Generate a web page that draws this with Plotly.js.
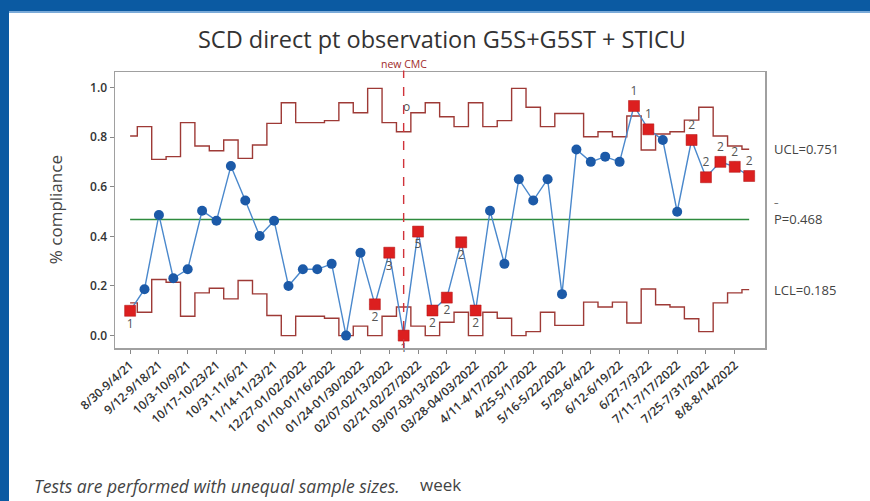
<!DOCTYPE html>
<html><head><meta charset="utf-8">
<script src="https://cdn.plot.ly/plotly-3.0.1.min.js"></script>
<style>
html,body{margin:0;padding:0;background:#fff;overflow:hidden}
#chart{width:870px;height:501px;position:absolute;left:0;top:0}
.bandTop{position:absolute;left:0;top:0;width:870px;height:11px;background:#0b5aa2;border-bottom:2px solid #7aaad8}
.bandLeft{position:absolute;left:0;top:0;width:9px;height:501px;background:#0b5aa2}
</style></head>
<body>
<div id="chart"></div>
<div class="bandTop"></div>
<div class="bandLeft"></div>
<script>
// ---- data ----
const tickLabels = ["8/30-9/4/21","9/12-9/18/21","10/3-10/9/21","10/17-10/23/21","10/31-11/6/21","11/14-11/23/21",
  "12/27-01/02/2022","01/10-01/16/2022","01/24-01/30/2022","02/07-02/13/2022","02/21-02/27/2022","03/07-03/13/2022",
  "03/28-04/03/2022","4/11-4/17/2022","4/25-5/1/2022","5/16-5/22/2022","5/29-6/4/22","6/12-6/19/22","6/27-7/3/22",
  "7/11-7/17/2022","7/25-7/31/2022","8/8-8/14/2022"];
const proportions = [0.10,0.187,0.486,0.231,0.267,0.503,0.463,0.683,0.544,0.401,
  0.463,0.200,0.267,0.267,0.289,0.0,0.334,0.126,0.334,0.0,
  0.419,0.101,0.153,0.376,0.101,0.503,0.289,0.630,0.544,0.630,
  0.167,0.750,0.700,0.721,0.700,0.925,0.831,0.788,0.499,0.788,
  0.638,0.700,0.680,0.643];
const ucl = [0.804,0.842,0.710,0.721,0.858,0.764,0.745,0.788,0.714,0.768,
  0.855,0.938,0.858,0.858,0.866,0.938,0.898,0.996,0.858,0.821,
  0.898,0.938,0.882,0.842,0.938,0.842,0.866,0.996,0.920,0.842,
  0.895,0.895,0.801,0.821,0.801,0.885,0.748,0.812,0.821,0.868,
  0.920,0.804,0.764,0.751];
const lcl = [0.132,0.094,0.226,0.215,0.078,0.172,0.191,0.148,0.222,0.168,
  0.081,0,0.078,0.078,0.070,0,0.038,0,0.078,0.115,
  0.038,0,0.054,0.094,0,0.094,0.070,0,0.016,0.094,
  0.041,0.041,0.135,0.115,0.135,0.051,0.188,0.124,0.115,0.068,
  0.016,0.132,0.172,0.185];
const testFlags = ["1","","","","","","","","","",
  "","","","","","","","2","3","1",
  "5","2","2","2","2","","","","","",
  "","","","","","1","1","","","2",
  "2","2","2","2"];
const flagBelow = [true,false,false,false,false,false,false,false,false,false,
  false,false,false,false,false,false,false,true,true,true,
  true,true,true,true,true,false,false,false,false,false,
  false,false,false,false,false,false,false,false,false,false,
  false,false,false,false];
const pBar = 0.468;
const uclLabel = 0.751, lclLabel = 0.185;
const cmcWeek = 20;

// ---- derived ----
const idx = proportions.map((_, i) => i + 1);
const tickVals = tickLabels.map((_, i) => 2 * i + 1);
const fx = [], fy = [], ft = [], fpos = [];
testFlags.forEach((f, i) => { if (f) { fx.push(idx[i]); fy.push(proportions[i]); ft.push(f); fpos.push(flagBelow[i] ? 'bottom center' : 'top center'); } });

const FONT = 'Open Sans, Noto Sans, sans-serif';
const limitColor = '#9e3a36';

const traces = [
  {x: idx, y: ucl, mode: 'lines', line: {shape: 'hvh', color: limitColor, width: 1.4}, hoverinfo: 'skip'},
  {x: idx, y: lcl, mode: 'lines', line: {shape: 'hvh', color: limitColor, width: 1.4}, hoverinfo: 'skip'},
  {x: [idx[0], idx[idx.length - 1]], y: [pBar, pBar], mode: 'lines', line: {color: '#2e8b3e', width: 1.4}},
  {x: idx, y: proportions, mode: 'lines+markers', line: {color: '#4a88cc', width: 1.4},
   marker: {symbol: 'circle', size: 10, color: '#1c5aa8'}},
  {x: fx, y: fy, mode: 'markers', cliponaxis: false,
   marker: {symbol: 'square', size: 11, color: '#dc1f1f', line: {color: '#b01010', width: 0.5}}},
  {x: fx, y: fy, mode: 'markers+text', text: ft, textposition: fpos, cliponaxis: false,
   marker: {size: 11, color: 'rgba(0,0,0,0)'},
   textfont: {family: FONT, size: 12, color: '#555'}}
];

const layout = {
  width: 870, height: 501,
  margin: {l: 115, r: 105, t: 72, b: 153},
  paper_bgcolor: '#ffffff', plot_bgcolor: '#ffffff',
  showlegend: false,
  font: {family: FONT, color: '#333'},
  title: {text: 'SCD direct pt observation G5S+G5ST + STICU', x: 0.508, xanchor: 'center',
          y: 0.92, yref: 'container', yanchor: 'middle', font: {family: FONT, size: 23.5, color: '#333'}},
  xaxis: {range: [-0.05, 45.1], tickvals: tickVals, ticktext: tickLabels, tickangle: -42,
          tickfont: {family: FONT, size: 12, color: '#333', weight: 600},
          ticks: 'outside', ticklen: 4, tickcolor: '#888', showgrid: false, zeroline: false,
          showline: true, linecolor: '#a0a0a0', linewidth: 1.5, mirror: true},
  yaxis: {range: [-0.05, 1.062], tickvals: [0, 0.2, 0.4, 0.6, 0.8, 1.0], tickformat: '.1f',
          tickfont: {family: FONT, size: 12, color: '#333', weight: 600},
          ticks: 'outside', ticklen: 4, tickcolor: '#888', showgrid: false, zeroline: false,
          showline: true, linecolor: '#a0a0a0', linewidth: 1.5, mirror: true},
  shapes: [
    {type: 'line', xref: 'x', yref: 'paper', x0: cmcWeek, x1: cmcWeek, y0: 0, y1: 1.005,
     line: {color: '#d0333a', width: 1.4, dash: 'dash'}}
  ],
  annotations: [
    {xref: 'x', yref: 'paper', x: cmcWeek, y: 1.005, yanchor: 'bottom', yshift: -2, text: 'new CMC', showarrow: false,
     font: {family: FONT, size: 10.5, color: '#a02a2a'}},
    {xref: 'x', yref: 'y', x: cmcWeek, y: 0.925, xshift: 3, text: 'o', showarrow: false,
     font: {family: FONT, size: 12, color: '#555'}},
    {xref: 'paper', yref: 'y', x: 1.01, y: uclLabel, xanchor: 'left', yanchor: 'middle', text: 'UCL=0.751', showarrow: false,
     font: {family: FONT, size: 13, color: '#444'}},
    {xref: 'paper', yref: 'y', x: 1.01, y: pBar, xanchor: 'left', yanchor: 'middle', text: 'P=0.468', showarrow: false,
     font: {family: FONT, size: 13, color: '#444'}},
    {xref: 'paper', yref: 'y', x: 1.01, y: pBar, xanchor: 'left', yanchor: 'middle', yshift: 17, text: '–', showarrow: false,
     font: {family: FONT, size: 9, color: '#444'}},
    {xref: 'paper', yref: 'y', x: 1.01, y: lclLabel, xanchor: 'left', yanchor: 'middle', text: 'LCL=0.185', showarrow: false,
     font: {family: FONT, size: 13, color: '#444'}},
    {xref: 'paper', yref: 'paper', x: -0.092, y: 0.5, xanchor: 'center', yanchor: 'middle', textangle: -90,
     text: '% compliance', showarrow: false, font: {family: FONT, size: 17, color: '#444'}},
    {xref: 'paper', yref: 'paper', x: 0.5, y: -0.496, xanchor: 'center', yanchor: 'middle', text: 'week', showarrow: false,
     font: {family: FONT, size: 17, color: '#444'}},
    {xref: 'paper', yref: 'paper', x: -0.128, y: -0.5, xanchor: 'left', yanchor: 'middle',
     text: '<i>Tests are performed with unequal sample sizes.</i>', showarrow: false,
     font: {family: FONT, size: 17.5, color: '#444'}}
  ]
};

Plotly.newPlot('chart', traces, layout, {staticPlot: true, displayModeBar: false});
</script>
</body></html>
